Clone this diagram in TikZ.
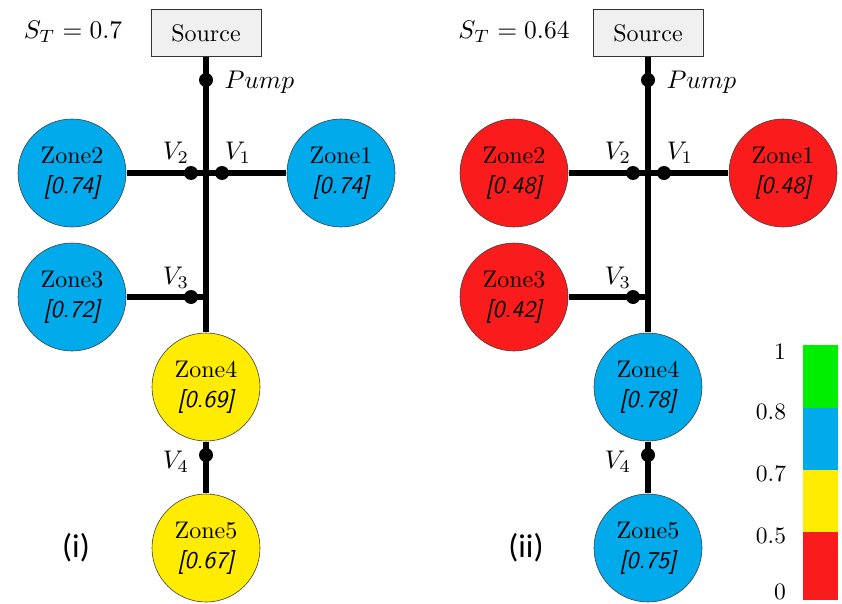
\documentclass[tikz,border=0pt]{standalone}
\usepackage{fontspec}
\newfontfamily\labelfont{Carlito}
\definecolor{zblue}{RGB}{0,170,235}
\definecolor{zyellow}{RGB}{255,236,0}
\definecolor{zred}{RGB}{250,28,28}
\definecolor{zgreen}{RGB}{0,238,0}
\definecolor{srcgray}{RGB}{240,240,240}
\tikzset{
  bigtxt/.style={font=\fontsize{10}{12.5}\selectfont, scale=2.4},
  zone/.style={bigtxt, circle, draw=black!75, line width=0.6pt, minimum size=45pt, inner sep=0pt, align=center},
  srcbox/.style={bigtxt, draw=black!80, line width=0.8pt, fill=srcgray, minimum width=45.8pt, minimum height=19.6pt, inner sep=0pt},
  pipe/.style={line width=5.8pt},
  valve/.style={circle, fill=black, minimum size=14pt, inner sep=0pt},
  vlab/.style={font=\fontsize{10}{12.5}\selectfont, scale=2.55, inner sep=0pt},
  panel/.style={font=\labelfont\fontsize{33}{38}\selectfont, inner sep=0pt},
  legtext/.style={font=\fontsize{10}{12}\selectfont, scale=2.35, inner sep=0pt},
}
\newcommand{\zv}[1]{{\sffamily\itshape[#1]}}
\begin{document}
\begin{tikzpicture}[x=1pt, y=-1pt]
\useasboundingbox (0,0) rectangle (842,604);

% ---------- left network (i) ----------
\node[srcbox] (srcA) at (206,33) {Source};
\node[vlab] (stA) at (73,32) {$S_T=0.7$};
\node[zone, fill=zblue] (z1A) at (341,173) {Zone1\\\zv{0.74}};
\node[zone, fill=zblue] (z2A) at (72,173) {Zone2\\\zv{0.74}};
\node[zone, fill=zblue] (z3A) at (72,297) {Zone3\\\zv{0.72}};
\node[zone, fill=zyellow] (z4A) at (206,387) {Zone4\\\zv{0.69}};
\node[zone, fill=zyellow] (z5A) at (206,548) {Zone5\\\zv{0.67}};
\coordinate (j3A) at (206,297);
\draw[pipe] (srcA.south) -- (z4A.north);
\draw[pipe] (z2A.east) -- (z1A.west);
\draw[pipe] (z3A.east) -- (j3A);
\draw[pipe] (z4A.south) -- (z5A.north);
\node[valve] (pumpA) at (206,80) {};
\node[valve] (v1A) at (222,173) {};
\node[valve] (v2A) at (191,173) {};
\node[valve] (v3A) at (191,297) {};
\node[valve] (v4A) at (206,455) {};
\node[vlab, anchor=west] (lpA) at (224,82) {$Pump$};
\node[vlab] (lv1A) at (238,153) {$V_1$};
\node[vlab] (lv2A) at (176,153) {$V_2$};
\node[vlab] (lv3A) at (176,278) {$V_3$};
\node[vlab] (lv4A) at (176,462) {$V_4$};
\node[panel] (pA) at (76,548) {(i)};

% ---------- right network (ii) ----------
\node[srcbox] (srcB) at (648,33) {Source};
\node[vlab] (stB) at (514,32) {$S_T=0.64$};
\node[zone, fill=zred] (z1B) at (783,173) {Zone1\\\zv{0.48}};
\node[zone, fill=zred] (z2B) at (514,173) {Zone2\\\zv{0.48}};
\node[zone, fill=zred] (z3B) at (514,297) {Zone3\\\zv{0.42}};
\node[zone, fill=zblue] (z4B) at (648,387) {Zone4\\\zv{0.78}};
\node[zone, fill=zblue] (z5B) at (648,548) {Zone5\\\zv{0.75}};
\coordinate (j3B) at (648,297);
\draw[pipe] (srcB.south) -- (z4B.north);
\draw[pipe] (z2B.east) -- (z1B.west);
\draw[pipe] (z3B.east) -- (j3B);
\draw[pipe] (z4B.south) -- (z5B.north);
\node[valve] (pumpB) at (648,80) {};
\node[valve] (v1B) at (664,173) {};
\node[valve] (v2B) at (633,173) {};
\node[valve] (v3B) at (633,297) {};
\node[valve] (v4B) at (648,455) {};
\node[vlab, anchor=west] (lpB) at (666,82) {$Pump$};
\node[vlab] (lv1B) at (680,153) {$V_1$};
\node[vlab] (lv2B) at (618,153) {$V_2$};
\node[vlab] (lv3B) at (618,278) {$V_3$};
\node[vlab] (lv4B) at (618,462) {$V_4$};
\node[panel] (pB) at (526,548) {(ii)};

% ---------- legend ----------
\fill[zgreen]  (803,345) rectangle (838,408);
\fill[zblue]   (803,408) rectangle (838,470);
\fill[zyellow] (803,470) rectangle (838,532);
\fill[zred]    (803,532) rectangle (838,600);
\node[legtext] (l1) at (780,352) {1};
\node[legtext] (l08) at (771,412) {0.8};
\node[legtext] (l07) at (771,474) {0.7};
\node[legtext] (l05) at (771,536) {0.5};
\node[legtext] (l0) at (780,592) {0};
\end{tikzpicture}
\end{document}
